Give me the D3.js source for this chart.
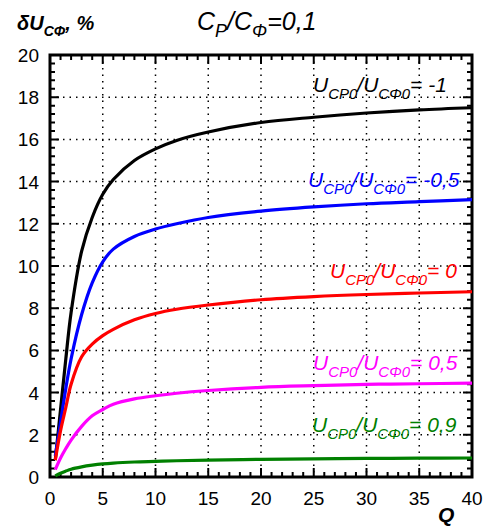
<!DOCTYPE html>
<html>
<head>
<meta charset="utf-8">
<script src="https://cdn.jsdelivr.net/npm/d3@7"></script>
<style>
body { margin: 0; background: #fff; }
text { font-family: "Liberation Sans", Arial, sans-serif; }
</style>
</head>
<body>
<script>
var qValues = [0.5, 1, 1.5, 2, 3, 4, 5, 6, 8, 10, 12, 15, 20, 25, 30, 35, 40];
var seriesM1  = [0.8, 3.2, 5.6, 7.8, 10.7, 12.3, 13.4, 14.1, 15.0, 15.55, 15.95, 16.35, 16.8, 17.05, 17.25, 17.4, 17.5];
var seriesM05 = [1.0, 2.6, 4.2, 5.6, 7.7, 9.2, 10.2, 10.8, 11.4, 11.75, 12.0, 12.3, 12.6, 12.8, 12.95, 13.05, 13.15];
var series0   = [0.8, 2.2, 3.3, 4.4, 5.7, 6.3, 6.7, 7.0, 7.45, 7.75, 7.95, 8.15, 8.4, 8.55, 8.65, 8.72, 8.78];
var series05  = [0.35, 0.9, 1.35, 1.75, 2.4, 2.9, 3.2, 3.45, 3.7, 3.85, 3.97, 4.1, 4.25, 4.33, 4.39, 4.42, 4.45];
var series09  = [0.05, 0.18, 0.28, 0.37, 0.48, 0.56, 0.62, 0.66, 0.71, 0.74, 0.77, 0.8, 0.84, 0.86, 0.88, 0.89, 0.9];
var seriesNames = ["-1", "-0,5", "0", "0,5", "0,9"];
var seriesColors = ["#000000", "#0000ff", "#ff0000", "#ff00ff", "#008000"];
var xTicks = [0, 5, 10, 15, 20, 25, 30, 35, 40];
var yTicks = [0, 2, 4, 6, 8, 10, 12, 14, 16, 18, 20];

var margin = {top: 55, right: 15, bottom: 52, left: 50},
    width = 487 - margin.left - margin.right,
    height = 529 - margin.top - margin.bottom;

var svg = d3.select("body").append("svg")
    .attr("width", 487)
    .attr("height", 529);

var g = svg.append("g")
    .attr("transform", "translate(" + margin.left + "," + margin.top + ")");

var x = d3.scaleLinear().domain([0, 40]).range([0, width]);
var y = d3.scaleLinear().domain([0, 20]).range([height, 0]);

// dotted grid
g.selectAll(".vgrid").data(xTicks.slice(1, -1)).enter().append("line")
    .attr("x1", d => x(d)).attr("x2", d => x(d))
    .attr("y1", 0).attr("y2", height)
    .attr("stroke", "#000").attr("stroke-width", 1.5)
    .attr("stroke-dasharray", "1.5,5");
g.selectAll(".hgrid").data(yTicks.slice(1, -1)).enter().append("line")
    .attr("x1", 0).attr("x2", width)
    .attr("y1", d => y(d)).attr("y2", d => y(d))
    .attr("stroke", "#000").attr("stroke-width", 1.5)
    .attr("stroke-dasharray", "1.5,5");

// inward ticks on all sides
var xMinor = d3.range(0, 41, 1), yMinor = d3.range(0, 20.01, 0.4);
function tickLen(d, step) { return Math.abs(d / step - Math.round(d / step)) < 1e-6 ? 9 : 5; }
g.selectAll(".xt").data(xMinor).enter().append("path")
    .attr("d", d => "M" + x(d) + "," + height + "v" + (-tickLen(d, 5)) +
                    "M" + x(d) + ",0v" + tickLen(d, 5))
    .attr("stroke", "#000").attr("stroke-width", 2);
g.selectAll(".yt").data(yMinor).enter().append("path")
    .attr("d", d => "M0," + y(d) + "h" + tickLen(d, 2) +
                    "M" + width + "," + y(d) + "h" + (-tickLen(d, 2)))
    .attr("stroke", "#000").attr("stroke-width", 2);

// frame
g.append("rect").attr("width", width).attr("height", height)
    .attr("fill", "none").attr("stroke", "#000").attr("stroke-width", 3);

// tick labels
g.selectAll(".xl").data(xTicks).enter().append("text")
    .attr("x", d => x(d)).attr("y", height + 28)
    .attr("text-anchor", "middle").style("font-size", "19px")
    .text(d => d);
g.selectAll(".yl").data(yTicks).enter().append("text")
    .attr("x", -11).attr("y", d => y(d) + 7)
    .attr("text-anchor", "end").style("font-size", "19px")
    .text(d => d);

// curves
var allSeries = [seriesM1, seriesM05, series0, series05, series09];
var line = d3.line()
    .x((d, i) => x(qValues[i]))
    .y(d => y(d))
    .curve(d3.curveCatmullRom.alpha(0.5));
g.selectAll(".curve").data(allSeries).enter().append("path")
    .attr("d", d => line(d))
    .attr("fill", "none")
    .attr("stroke", (d, i) => seriesColors[i])
    .attr("stroke-width", 3.2);

// curve labels
var labelPos = [[313, 92], [308, 187], [330, 278], [313, 370], [312, 432]];
seriesNames.forEach(function(name, i) {
  var t = svg.append("text")
      .attr("x", labelPos[i][0]).attr("y", labelPos[i][1])
      .attr("fill", seriesColors[i])
      .style("font-size", "21px").style("font-style", "italic");
  t.append("tspan").text("U");
  t.append("tspan").attr("dy", 7).style("font-size", "15px").text("CP0");
  t.append("tspan").attr("dy", -7).text("/U");
  t.append("tspan").attr("dy", 7).style("font-size", "15px").text("CΦ0");
  t.append("tspan").attr("dy", -7).text("= " + name);
});

// titles
var t1 = svg.append("text").attr("x", 17).attr("y", 30)
    .style("font-size", "20px").style("font-style", "italic").style("font-weight", "bold");
t1.append("tspan").text("δU");
t1.append("tspan").attr("dy", 6).style("font-size", "14px").text("CΦ");
t1.append("tspan").attr("dy", -6).text(", %");

var t2 = svg.append("text").attr("x", 197).attr("y", 30)
    .style("font-size", "25px").style("font-style", "italic");
t2.append("tspan").text("C");
t2.append("tspan").attr("dy", 7).style("font-size", "18px").text("P");
t2.append("tspan").attr("dy", -7).text("/C");
t2.append("tspan").attr("dy", 7).style("font-size", "18px").text("Φ");
t2.append("tspan").attr("dy", -7).text("=0,1");

svg.append("text").attr("x", 438).attr("y", 522)
    .style("font-size", "21px").style("font-style", "italic").style("font-weight", "bold")
    .text("Q");
</script>
</body>
</html>
